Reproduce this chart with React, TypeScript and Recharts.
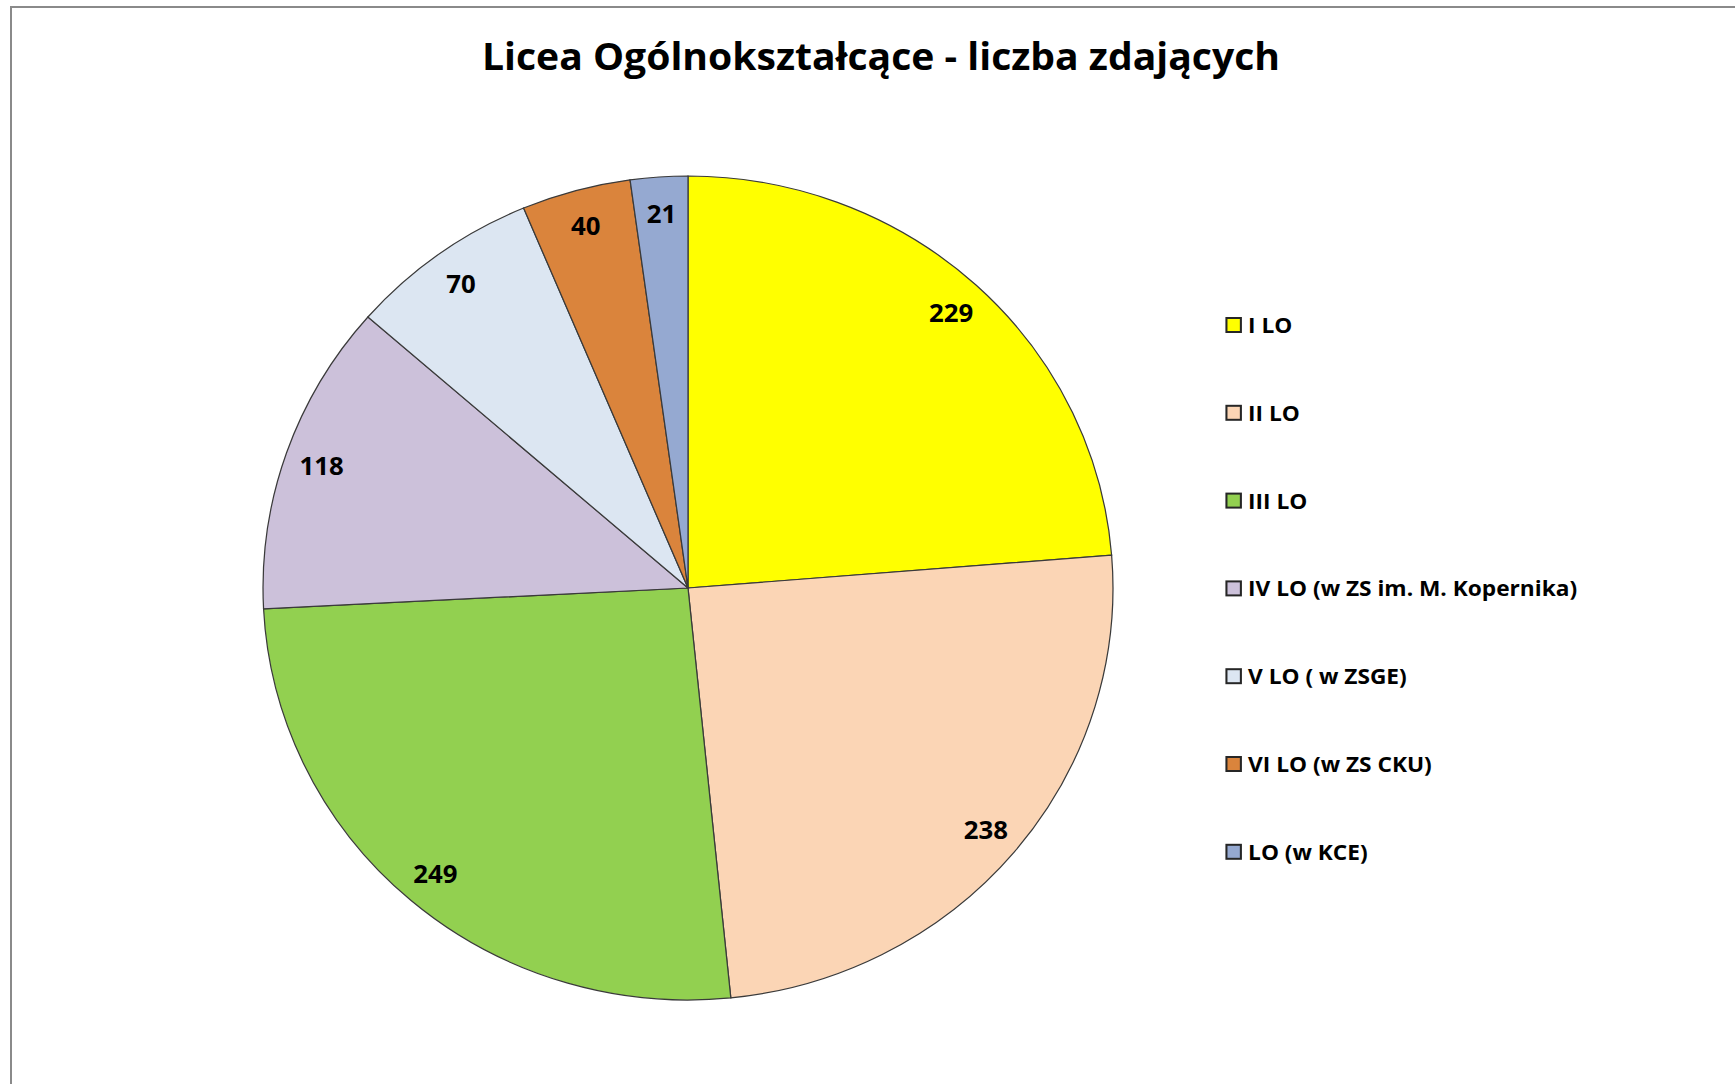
import React from 'react';
import { PieChart, Pie, Cell, Legend } from 'recharts';

const categories = [
  'I LO',
  'II LO',
  'III LO',
  'IV LO (w ZS im. M. Kopernika)',
  'V LO ( w ZSGE)',
  'VI LO (w ZS CKU)',
  'LO (w KCE)',
];
const values = [229, 238, 249, 118, 70, 40, 21];
const colors = ['#FFFF00', '#FBD5B5', '#92D050', '#CCC1DA', '#DCE6F2', '#DA843C', '#95A9D1'];
const title = 'Licea Ogólnokształcące - liczba zdających';

const data = categories.map((name, i) => ({ name, value: values[i] }));

const RADIAN = Math.PI / 180;
const FONT = '"Open Sans", Calibri, sans-serif';

const renderLabel = (props: any) => {
  const { cx, cy, midAngle, value } = props;
  const r = 376;
  const x = cx + r * Math.cos(-midAngle * RADIAN);
  const y = cy + r * Math.sin(-midAngle * RADIAN);
  return (
    <text
      x={x}
      y={y}
      textAnchor="middle"
      dominantBaseline="central"
      fontFamily={FONT}
      fontWeight={700}
      fontSize={25}
      fill="#000"
    >
      {value}
    </text>
  );
};

const LegendContent = () => {
  return (
    <svg width={420} height={560} style={{ overflow: 'visible', display: 'block' }}>
      {categories.map((name, i) => (
        <g key={name} transform={`translate(0, ${i * 87.8})`}>
          <rect x={1} y={1} width={14} height={14} fill={colors[i]} stroke="#262626" strokeWidth={2} />
          <text x={22} y={16} fontFamily={FONT} fontWeight={700} fontSize={22} fill="#000">
            {name}
          </text>
        </g>
      ))}
    </svg>
  );
};

export default function App() {
  return (
    <div
      style={{
        position: 'absolute',
        left: 0,
        top: 0,
        width: 1735,
        height: 1084,
        background: '#fff',
        overflow: 'hidden',
      }}
    >
      <div
        style={{
          position: 'absolute',
          left: 10,
          top: 6,
          width: 1800,
          height: 1200,
          borderLeft: '2px solid #8a8a8a',
          borderTop: '2px solid #8a8a8a',
        }}
      />
      <svg width={1735} height={110} style={{ position: 'absolute', left: 0, top: 0 }}>
        <text
          x={881}
          y={70}
          textAnchor="middle"
          fontFamily={FONT}
          fontWeight={700}
          fontSize={38}
          textLength={798}
          lengthAdjust="spacingAndGlyphs"
          fill="#000"
        >
          {title}
        </text>
      </svg>
      <div
        style={{
          position: 'absolute',
          left: 0,
          top: 0,
          transform: 'scaleX(1.0315)',
          transformOrigin: '688px 588px',
        }}
      >
        <PieChart width={1735} height={1084} margin={{ top: 0, right: 0, bottom: 0, left: 0 }}>
          <Pie
            data={data}
            dataKey="value"
            nameKey="name"
            cx={688}
            cy={588}
            outerRadius={412}
            startAngle={90}
            endAngle={-270}
            stroke="#3a3a3a"
            strokeWidth={1.2}
            label={renderLabel}
            labelLine={false}
            isAnimationActive={false}
          >
            {data.map((d, i) => (
              <Cell key={d.name} fill={colors[i]} />
            ))}
          </Pie>
          <Legend
            content={<LegendContent />}
            itemSorter={null as any}
            wrapperStyle={{ position: 'absolute', left: 1208.6, top: 317, width: 420, bottom: 'auto', right: 'auto' }}
          />
        </PieChart>
      </div>
    </div>
  );
}
